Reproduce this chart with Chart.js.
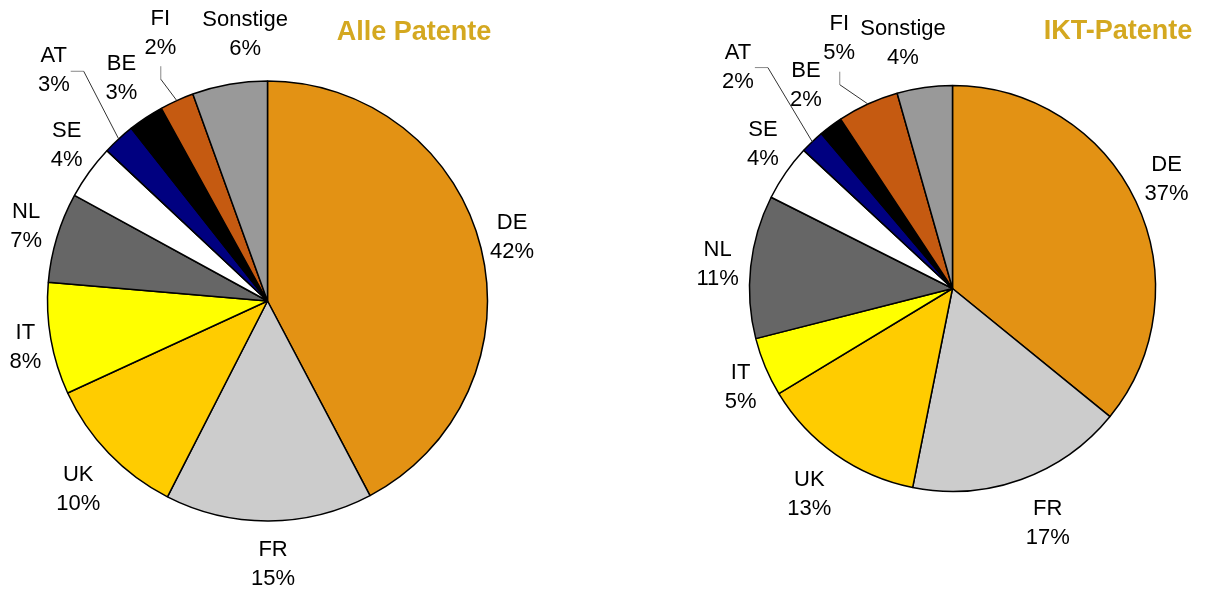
<!DOCTYPE html>
<html>
<head>
<meta charset="utf-8">
<script src="https://cdn.jsdelivr.net/npm/chart.js@4.4.1/dist/chart.umd.min.js"></script>
<style>
  body { margin: 0; background: #fff; }
  #wrap { position: relative; width: 1205px; height: 590px; }
  #wrap canvas { position: absolute; top: 0; }
</style>
</head>
<body>
<div id="wrap">
  <canvas id="canvas-alle" width="600" height="590" style="left:0"></canvas>
  <canvas id="canvas-ikt" width="605" height="590" style="left:600px"></canvas>
</div>
<script>
// Anteile (in %) je Land
var categories = ['DE', 'FR', 'UK', 'IT', 'NL', 'SE', 'AT', 'BE', 'FI', 'Sonstige'];
var allePatente = [42.2, 15.2, 10.6, 8.2, 6.6, 4.0, 2.4, 2.6, 2.5, 5.5];
var alleLabels = ['42%', '15%', '10%', '8%', '7%', '4%', '3%', '3%', '2%', '6%'];
var iktPatente = [35.9, 17.3, 13.2, 4.7, 11.4, 4.5, 1.9, 1.9, 4.9, 4.4];
var iktLabels = ['37%', '17%', '13%', '5%', '11%', '4%', '2%', '2%', '5%', '4%'];

var colors = ['#E39214', '#CCCCCC', '#FFCC00', '#FFFF00', '#666666',
              '#FFFFFF', '#000080', '#000000', '#C55A11', '#999999'];

var FONT = '"Liberation Sans", Arial, sans-serif';

// draws the country/percent labels, leader lines and the title
var makeLabelPlugin = function(cfg){
  return {
    id: 'sliceLabels',
    afterDatasetsDraw: function(chart){
      var ctx = chart.ctx;
      var meta = chart.getDatasetMeta(0);
      ctx.save();
      ctx.font = '22px ' + FONT;
      ctx.fillStyle = '#000';
      ctx.textAlign = 'center';
      ctx.textBaseline = 'middle';
      meta.data.forEach(function(arc, i){
        var p = arc.getProps(['x', 'y', 'startAngle', 'endAngle', 'outerRadius'], true);
        var mid = (p.startAngle + p.endAngle) / 2;
        var c = Math.cos(mid), s = Math.sin(mid);
        var line1 = chart.data.labels[i];
        var line2 = cfg.pct[i];
        var w = Math.max(ctx.measureText(line1).width, ctx.measureText(line2).width);
        var h = 58;
        var ax = p.x + c * (p.outerRadius + 12);
        var ay = p.y + s * (p.outerRadius + 12);
        var n = cfg.nudge[i];
        var lx = ax + c * w / 2 + n[0];
        var ly = ay + s * h / 2 + n[1];
        ctx.fillText(line1, lx, ly - 14.5);
        ctx.fillText(line2, lx, ly + 14.5);

        var lead = cfg.leader[i];
        if(lead){
          var ex = p.x + c * p.outerRadius;
          var ey = p.y + s * p.outerRadius;
          var bx, by;
          ctx.lineWidth = 1;
          ctx.strokeStyle = '#888';
          ctx.beginPath();
          if(lead == 'h'){
            ctx.moveTo(lx + w / 2 + 1, ly + 0.5);
            bx = lx + w / 2 + 14; by = ly + 0.5;
          } else {
            ctx.moveTo(lx + 0.5, ly + h / 2 + 4);
            bx = lx + 0.5; by = ly + h / 2 + 17;
          }
          ctx.lineTo(bx, by);
          ctx.stroke();
          ctx.strokeStyle = '#333';
          ctx.beginPath();
          ctx.moveTo(bx, by);
          ctx.lineTo(ex, ey);
          ctx.stroke();
        }
      });

      ctx.font = 'bold 27px ' + FONT;
      ctx.fillStyle = '#D4A820';
      ctx.fillText(cfg.title, cfg.titleX, cfg.titleY);
      ctx.restore();
    }
  };
};

var makePie = function(el, values, pct, opts){
  return new Chart(el, {
    type: 'pie',
    data: {
      labels: categories,
      datasets: [{
        data: values,
        backgroundColor: colors,
        borderColor: '#000',
        borderWidth: 1.5
      }]
    },
    options: {
      responsive: false,
      animation: false,
      radius: opts.radius,
      layout: { padding: opts.padding },
      plugins: {
        legend: { display: false },
        tooltip: { enabled: false }
      }
    },
    plugins: [makeLabelPlugin({
      pct: pct,
      nudge: opts.nudge,
      leader: opts.leader,
      title: opts.title,
      titleX: opts.titleX,
      titleY: opts.titleY
    })]
  });
};

var chartAlle = makePie(document.getElementById('canvas-alle'), allePatente, alleLabels, {
  radius: 220,
  padding: { left: 0, right: 65, top: 12, bottom: 0 },
  nudge: [[-2, -1], [4, 2], [-6, 8], [2, 1], [-4, 1], [0, -3], [-46, -38], [-9, -5], [-5, -30], [25, -9]],
  leader: [null, null, null, null, null, null, 'h', null, 'v', null],
  title: 'Alle Patente',
  titleX: 414,
  titleY: 33
});

var chartIkt = makePie(document.getElementById('canvas-ikt'), iktPatente, iktLabels, {
  radius: 203,
  padding: { left: 100, right: 0, top: 0, bottom: 13 },
  nudge: [[0, -4], [15, 5], [-7, 6], [1, 5], [0, 2], [0, -5], [-55, -45], [-8, -8], [-17, -28], [-14, -3]],
  leader: [null, null, null, null, null, null, 'h', null, 'v', null],
  title: 'IKT-Patente',
  titleX: 518,
  titleY: 32
});
</script>
</body>
</html>
